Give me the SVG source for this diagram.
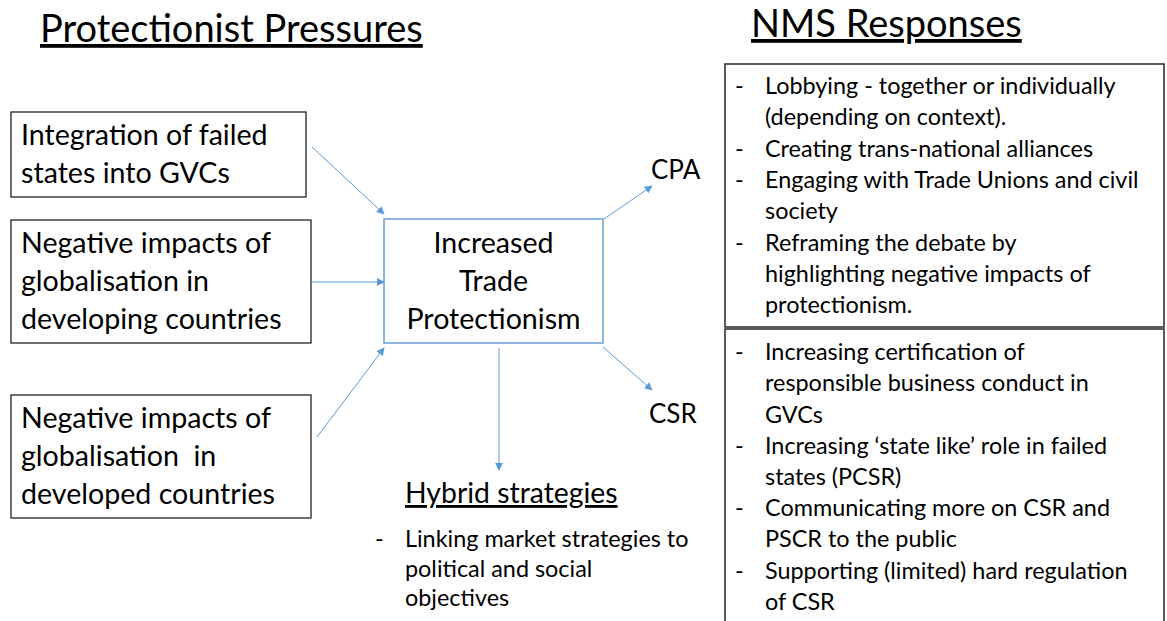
<svg xmlns="http://www.w3.org/2000/svg" width="1167" height="621" viewBox="0 0 1167 621">
  <style>
    text { font-family: Lato, "Open Sans", "Liberation Sans", sans-serif; fill: #000; }
    .title { font-size: 38px; text-decoration: underline; }
    .box { fill: #fff; stroke: #222; stroke-width: 1.3; }
    .hub { fill: #fff; stroke: #6a9fd6; stroke-width: 1.5; }
    .panel { fill: #fff; stroke: #333; stroke-width: 1.6; }
    .big { font-size: 28.6px; }
    .label { font-size: 26px; }
    .mid { font-size: 28.4px; }
    .small { font-size: 23.4px; }
    .link { stroke: #5b9bd5; stroke-width: 1; fill: none; marker-end: url(#arrow); }
  </style>
  <defs>
    <marker id="arrow" viewBox="0 0 10 10" refX="9" refY="5" markerWidth="8" markerHeight="8" markerUnits="userSpaceOnUse" orient="auto">
      <path d="M0,0 L10,5 L0,10 z" fill="#5b9bd5"/>
    </marker>
  </defs>
  <rect width="1167" height="621" fill="#fff"/>

  <!-- headings -->
  <text class="title" x="40" y="42">Protectionist Pressures</text>
  <text class="title" x="751" y="37">NMS Responses</text>

  <!-- pressure sources -->
  <g id="failed-states">
    <rect class="box" x="11" y="112" width="295" height="85"/>
    <text class="big" x="21" y="145">Integration of failed</text>
    <text class="big" x="21" y="183">states into GVCs</text>
  </g>
  <g id="developing">
    <rect class="box" x="11" y="220" width="300" height="123"/>
    <text class="big" x="21" y="253">Negative impacts of</text>
    <text class="big" x="21" y="291">globalisation in</text>
    <text class="big" x="21" y="329">developing countries</text>
  </g>
  <g id="developed">
    <rect class="box" x="11" y="395" width="300" height="123"/>
    <text class="big" x="21" y="428">Negative impacts of</text>
    <text class="big" x="21" y="466" xml:space="preserve">globalisation  in</text>
    <text class="big" x="21" y="504">developed countries</text>
  </g>

  <!-- central node -->
  <g id="protectionism">
    <rect class="hub" x="384" y="219" width="219" height="124"/>
    <text class="big" x="493.5" y="253" text-anchor="middle">Increased</text>
    <text class="big" x="493.5" y="291" text-anchor="middle">Trade</text>
    <text class="big" x="493.5" y="329" text-anchor="middle">Protectionism</text>
  </g>

  <!-- outcomes -->
  <g id="cpa">
    <text class="label" x="651" y="179">CPA</text>
  </g>
  <g id="csr">
    <text class="label" x="649" y="423">CSR</text>
  </g>
  <g id="hybrid">
    <text class="mid" x="405" y="503" text-decoration="underline">Hybrid strategies</text>
    <text class="small" x="375" y="547">-</text>
    <text class="small" x="405" y="547">Linking market strategies to</text>
    <text class="small" x="405" y="577">political and social</text>
    <text class="small" x="405" y="606">objectives</text>
  </g>

  <!-- response panels -->
  <g id="cpa-responses">
    <rect class="panel" x="725" y="64" width="439" height="263"/>
    <g class="small">
      <text x="735" y="94">-</text>
      <text x="765" y="94">Lobbying - together or individually</text>
      <text x="765" y="125">(depending on context).</text>
      <text x="735" y="157">-</text>
      <text x="765" y="157">Creating trans-national alliances</text>
      <text x="735" y="188">-</text>
      <text x="765" y="188">Engaging with Trade Unions and civil</text>
      <text x="765" y="219">society</text>
      <text x="735" y="251">-</text>
      <text x="765" y="251">Reframing the debate by</text>
      <text x="765" y="282">highlighting negative impacts of</text>
      <text x="765" y="313">protectionism.</text>
    </g>
  </g>
  <g id="csr-responses">
    <rect class="panel" x="725" y="329" width="439" height="300"/>
    <g class="small">
      <text x="735" y="360">-</text>
      <text x="765" y="360">Increasing certification of</text>
      <text x="765" y="391">responsible business conduct in</text>
      <text x="765" y="423">GVCs</text>
      <text x="735" y="454">-</text>
      <text x="765" y="454">Increasing ‘state like’ role in failed</text>
      <text x="765" y="485">states (PCSR)</text>
      <text x="735" y="516">-</text>
      <text x="765" y="516">Communicating more on CSR and</text>
      <text x="765" y="547">PSCR to the public</text>
      <text x="735" y="579">-</text>
      <text x="765" y="579">Supporting (limited) hard regulation</text>
      <text x="765" y="610">of CSR</text>
    </g>
  </g>

  <!-- connectors -->
  <g id="connectors">
    <line class="link" x1="312" y1="147" x2="384" y2="214"/>
    <line class="link" x1="311" y1="282" x2="384" y2="282"/>
    <line class="link" x1="317" y1="437" x2="384" y2="348"/>
    <line class="link" x1="604" y1="219" x2="652" y2="186"/>
    <line class="link" x1="603" y1="347" x2="652" y2="390"/>
    <line class="link" x1="499" y1="348" x2="499" y2="470"/>
  </g>
</svg>
